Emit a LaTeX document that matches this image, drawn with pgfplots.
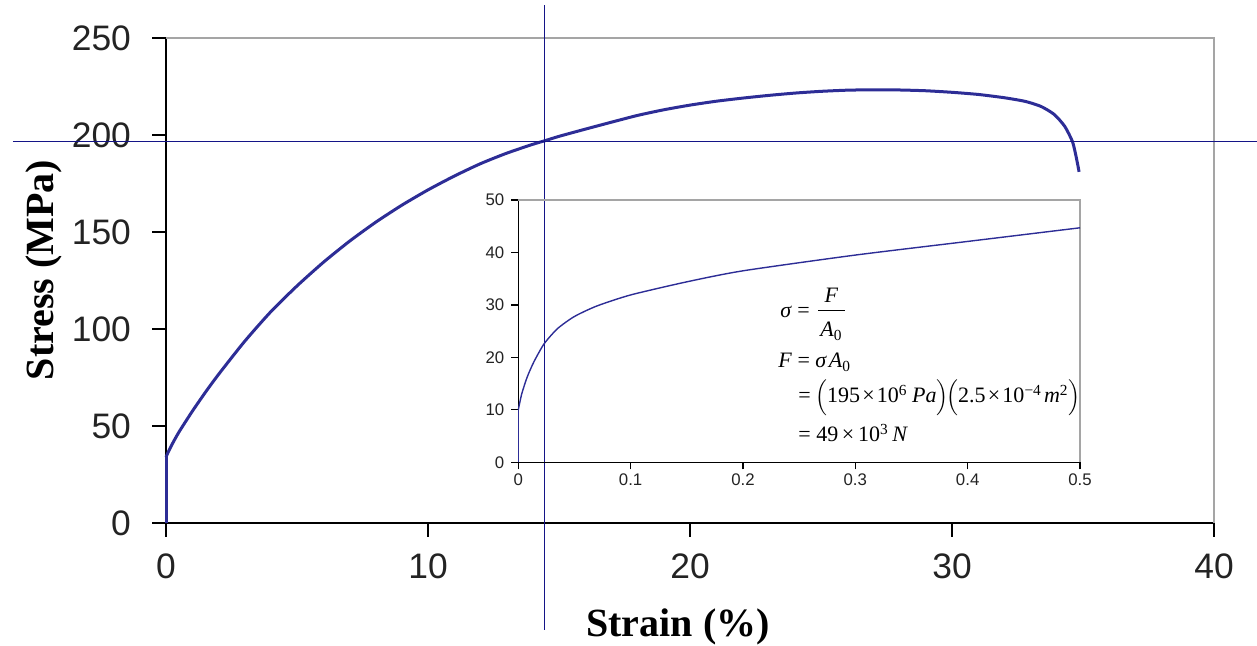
\documentclass[border=0pt]{standalone}
\usepackage{pgfplots}
\pgfplotsset{compat=1.18}
\usepackage{fontspec}
\setmainfont{Liberation Serif}
\newfontfamily\arialfont{Liberation Sans}
\definecolor{curveblue}{RGB}{45,45,150}
\definecolor{lineblue}{RGB}{20,20,135}
\definecolor{framegray}{RGB}{165,165,165}
\definecolor{ticktext}{RGB}{35,35,35}
\begin{document}
\begin{tikzpicture}
\useasboundingbox (0,0) rectangle (628.5pt,323pt);
% main axis
\begin{axis}[
  at={(83pt,61.5pt)}, anchor=south west,
  scale only axis, width=524pt, height=242.5pt,
  xmin=0, xmax=40, ymin=0, ymax=250,
  axis x line*=bottom, axis y line*=left,
  axis line style={black, line width=1pt},
  xtick={0,10,20,30,40}, ytick={0,50,100,150,200,250},
  tick align=outside, major tick length=7pt,
  tick style={black, line width=1pt},
  ticklabel style={font=\arialfont\fontsize{17.7}{20}\selectfont, text=ticktext},
  yticklabel style={xshift=-7pt},
  xticklabel style={yshift=-5pt},
  /pgf/number format/assume math mode=true,
  clip=false,
]
\draw[framegray, line width=1.2pt] (rel axis cs:0,1) -- (rel axis cs:1,1) -- (rel axis cs:1,0);
\addplot[curveblue, line width=1.5pt] coordinates {(0,0) (0,34)};
\addplot[curveblue, line width=1.5pt, smooth, tension=0.4] coordinates {
(0,34) (0.1,37) (0.25,41) (0.5,47) (1,57.5) (1.5,67.3) (2,76.5) (3,93.6)
(4,108.9) (5,122.2) (6,134.3) (7,145.2) (8,155) (9,163.8) (10,171.7)
(11,178.8) (12,185.2) (13,190.6) (14,195.2) (14.45,197) (15,199.3) (16,203)
(17,206.6) (18,210.1) (19,213) (20,215.4) (21,217.4) (22,219) (23,220.4)
(24,221.6) (25,222.5) (26,223.1) (27,223.3) (28,223.2) (29,222.8) (30,222)
(31,220.9) (32,219.2) (32.8,217.3) (33.4,214.7) (33.9,210.6) (34.3,204.5)
(34.6,196.5) (34.75,188) (34.85,181)};
\addplot[lineblue, line width=0.5pt] coordinates {(-5.84,196.8) (41.64,196.8)};
\addplot[lineblue, line width=0.5pt] coordinates {(14.45,267) (14.45,-55.2)};
\end{axis}
% inset axis
\begin{axis}[
  at={(259.15pt,91.85pt)}, anchor=south west,
  scale only axis, width=280.85pt, height=131.15pt,
  xmin=0, xmax=0.5, ymin=0, ymax=50,
  axis x line*=bottom, axis y line*=left,
  axis line style={black, line width=0.6pt},
  xtick={0,0.1,0.2,0.3,0.4,0.5}, xticklabels={0,0.1,0.2,0.3,0.4,0.5},
  ytick={0,10,20,30,40,50},
  tick align=outside, major tick length=3.5pt,
  tick style={black, line width=0.6pt},
  ticklabel style={font=\arialfont\fontsize{8.4}{10}\selectfont, text=ticktext},
  xticklabel style={yshift=1.5pt},
  /pgf/number format/assume math mode=true,
  clip=false,
]
\draw[framegray, line width=0.8pt] (rel axis cs:0,1) -- (rel axis cs:1,1) -- (rel axis cs:1,0);
\addplot[curveblue, line width=0.7pt] coordinates {(0,0) (0,10)};
\addplot[curveblue, line width=0.7pt, smooth, tension=0.4] coordinates {
(0,10) (0.003,13) (0.008,16.3) (0.014,19.2) (0.023,22.6) (0.035,25.5)
(0.05,27.8) (0.07,29.8) (0.1,31.9) (0.15,34.4) (0.2,36.5) (0.3,39.5)
(0.4,42.1) (0.5,44.7)};
\end{axis}
% equations
\begin{scope}[every node/.style={inner sep=0pt, font=\fontsize{11}{13}\selectfont}]
\node[anchor=base west] at (390pt,164pt) {\textit{σ} =};
\node[anchor=base] at (415.75pt,171.5pt) {\textit{F}};
\draw[line width=0.45pt] (409pt,168pt) -- (422.5pt,168pt);
\node[anchor=base] at (415.75pt,154.5pt) {\textit{A}\textsubscript{0}};
\node[anchor=base west] at (389pt,139pt) {\textit{F} = \textit{σ\kern0.12em A}\textsubscript{0}};
\node[anchor=base west] at (399pt,121.5pt) {=\kern0.2em$\Bigl($195\kern0.1em×\kern0.1em10\textsuperscript{6}\kern0.2em\textit{Pa}$\Bigr)\kern-0.1em\Bigl($2.5\kern0.1em×\kern0.1em10\textsuperscript{−4}\kern0.1em\textit{m}\textsuperscript{2}$\Bigr)$};
\node[anchor=base west] at (399pt,102pt) {= 49\,×\,10\textsuperscript{3}\,\textit{N}};
\end{scope}
% axis labels
\node[anchor=base, font=\bfseries\fontsize{20}{24}\selectfont] at (339pt,4.5pt) {Strain (\%)};
\node[anchor=base, rotate=90, font=\bfseries\fontsize{20}{24}\selectfont] at (26.5pt,188pt) {Stress (MPa)};
\end{tikzpicture}
\end{document}
